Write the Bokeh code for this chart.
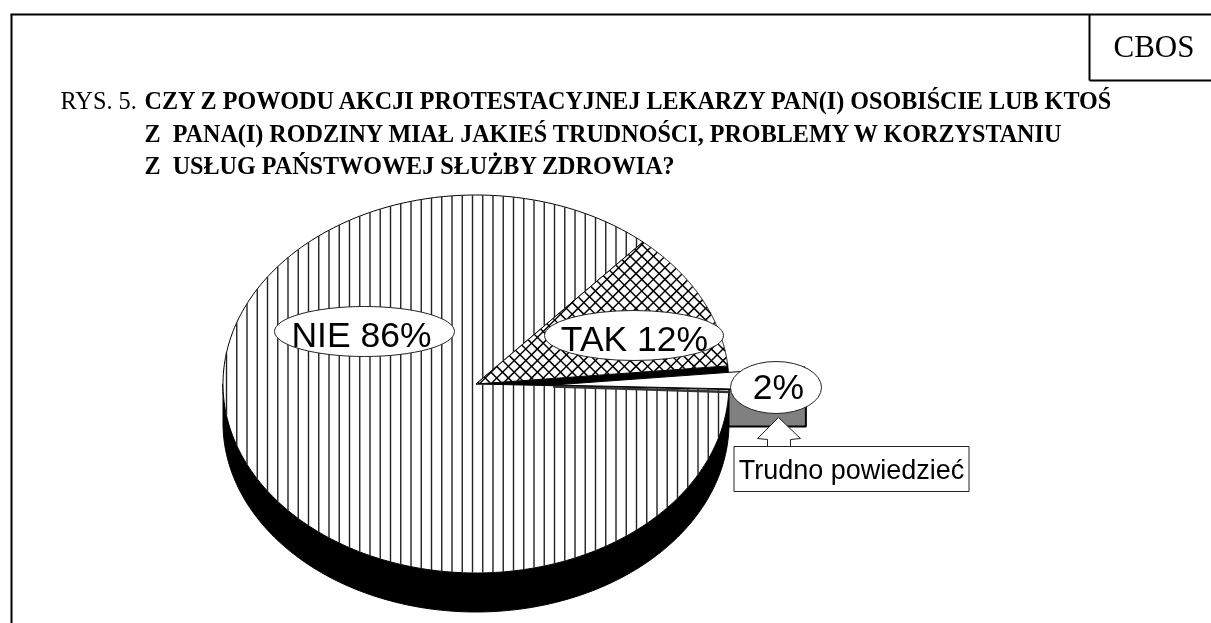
import numpy as np
from bokeh.plotting import figure
from bokeh.models import Range1d
from bokeh.core.properties import value
from bokeh.embed import file_html
from bokeh.resources import INLINE

# ---- data ----
slice_names = ["TAK", "NIE", "Trudno powiedzieć"]
slice_shares = [12, 86, 2]
slice_labels = ["TAK 12%", "NIE 86%", "2%"]
callout_text = "Trudno powiedzieć"
corner_text = "CBOS"
title_prefix = "RYS. 5."
title_lines = ["CZY Z POWODU AKCJI PROTESTACYJNEJ LEKARZY PAN(I) OSOBIŚCIE LUB KTOŚ",
               "Z\u00a0\u00a0PANA(I) RODZINY MIAŁ JAKIEŚ TRUDNOŚCI, PROBLEMY W KORZYSTANIU",
               "Z\u00a0\u00a0USŁUG PAŃSTWOWEJ SŁUŻBY ZDROWIA?"]

# ---- layout ----
W, H = 1211, 623
CX, CY, RX, RY, DEPTH = 475.5, 383.5, 253.0, 189.0, 39.0
START = 5.5
EXPLODE = 77.0
WALL = 36.0

p = figure(width=W, height=H, x_range=Range1d(0, W), y_range=Range1d(H, 0),
           output_backend="svg", toolbar_location=None, min_border=0,
           outline_line_color=None, background_fill_color="white", border_fill_color="white")
p.axis.visible = False
p.grid.visible = False
p.styles = {"position": "fixed", "left": "0px", "top": "0px"}

# angle spans derived from the shares
deg = [s / sum(slice_shares) * 360 for s in slice_shares]
tak = (START, START + deg[0])
nie = (tak[1], tak[1] + deg[1])
dk = (nie[1], nie[1] + deg[2])


def arc(a0, a1, cx=CX, cy=CY, n=300):
    t = np.radians(np.linspace(a0, a1, n))
    return cx + RX * np.cos(t), cy - RY * np.sin(t)


def wedge(a0, a1, cx=CX, cy=CY):
    x, y = arc(a0, a1, cx, cy)
    return np.r_[cx, x], np.r_[cy, y]


def inside(x, y, a0, a1, cx=CX, cy=CY):
    u, v = (x - cx) / RX, (cy - y) / RY
    ang = np.degrees(np.arctan2(v, u)) % 360
    return (u * u + v * v <= 1) & (((ang - a0) % 360) <= (a1 - a0))


def clipped_segments(xs, ys, a0, a1):
    m = inside(xs, ys, a0, a1)
    segs = []
    i = 0
    while i < len(m):
        if m[i]:
            j = i
            while j + 1 < len(m) and m[j + 1]:
                j += 1
            if j > i:
                segs.append(([xs[i], xs[j]], [ys[i], ys[j]]))
            i = j + 1
        else:
            i += 1
    return segs


# side wall of the pulled-out slice (behind everything else)
ex, ey = CX + EXPLODE, CY + 1
lx, ly = arc(dk[0], dk[0], ex, ey, 1)
p.patch([ex, lx[0], lx[0], ex], [ey, ly[0], ly[0] + WALL, ly[0] + WALL],
        fill_color="#808080", line_color="black", line_width=2)

# black rim of the main pie
ax, ay = arc(180, 360)
bx, by = arc(360, 180, CX, CY + DEPTH)
p.patch(np.r_[ax, bx], np.r_[ay, by], fill_color="black", line_color="black", line_width=1)

# black gap left by the pulled-out slice
x, y = wedge(dk[0], dk[1])
p.patch(x, y, fill_color="black", line_color="black", line_width=1)

# NIE face
x, y = wedge(nie[0], nie[1])
p.patch(x, y, fill_color="white", line_color="black", line_width=1)
segs = []
for vx in np.arange(226.0, 730.0, 10.25):
    ys = np.arange(CY - RY - 1, CY + RY + 1, 0.25)
    segs += clipped_segments(np.full_like(ys, vx), ys, nie[0], nie[1])
p.multi_line([s[0] for s in segs], [s[1] for s in segs], line_color="#222222", line_width=1.4)

# TAK face
x, y = wedge(tak[0], tak[1])
p.patch(x, y, fill_color="white", line_color="black", line_width=1)
segs = []
ts = np.arange(-300, 300, 0.25)
for c in np.arange(-400, 400, 11.6):
    segs += clipped_segments(CX + 160 + ts, CY - 70 + ts + c, tak[0], tak[1])
    segs += clipped_segments(CX + 160 + ts, CY - 70 - ts + c, tak[0], tak[1])
p.multi_line([s[0] for s in segs], [s[1] for s in segs], line_color="black", line_width=1.5)

# pulled-out slice: dark lower edge then white face
p.line([ex, CX + RX], [ey + 1.5, ly[0] + 1.5], line_color="#333333", line_width=2.5)
x, y = wedge(dk[0], dk[1], ex, ey)
p.patch(x, y, fill_color="white", line_color="black", line_width=1)

# label ovals
ox = [633.5, 364.0, 775.5]
oy = [335.0, 331.0, 387.0]
ow = [179.0, 180.0, 91.0]
oh = [50.0, 50.0, 52.0]
lab_x = [634.0, 361.0, 778.0]
lab_y = [338.3, 334.8, 386.3]
p.ellipse(ox, oy, width=ow, height=oh, fill_color="white", line_color="#222222", line_width=1)
p.text(lab_x, lab_y, text=slice_labels, text_align="center",
       text_baseline="middle", text_font=value("Liberation Sans"), text_font_size="35.5px", text_color="black")

# callout
p.patch([778, 800, 790, 790, 767, 767, 757], [417, 438, 439, 447, 447, 439, 438],
        fill_color="white", line_color="#222222", line_width=1)
p.patch([733.5, 968.5, 968.5, 733.5], [446, 446, 491, 491],
        fill_color="white", line_color="#222222", line_width=1)
p.text([851], [469], text=[callout_text], text_align="center", text_baseline="middle",
       text_font=value("Liberation Sans"), text_font_size="27px", text_color="black")

# frame and corner box
p.line([11, 11], [H, 14], line_color="black", line_width=2)
p.line([10, W], [14, 14], line_color="black", line_width=2)
p.line([1089, 1089], [14, 80], line_color="black", line_width=2)
p.line([1089, W], [80, 80], line_color="black", line_width=2)
p.text([1113], [45.7], text=[corner_text], text_baseline="middle",
       text_font=value("Liberation Serif"), text_font_size="31px", text_color="black")

# heading
p.text([60], [99.8], text=[title_prefix], text_baseline="middle",
       text_font=value("Liberation Serif"), text_font_size="24.3px", text_color="black")
p.text([144, 144, 144], [99.8, 132.8, 164.8], text=title_lines, text_baseline="middle",
       text_font=value("Liberation Serif"), text_font_style="bold", text_font_size="24.13px", text_color="black")

open("out.html", "w").write(file_html(p, INLINE))
